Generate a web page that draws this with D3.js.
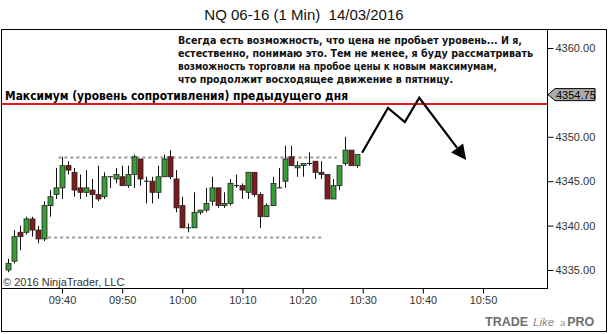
<!DOCTYPE html>
<html><head><meta charset="utf-8">
<script src="https://cdn.jsdelivr.net/npm/d3@7/dist/d3.min.js"></script>
<style>body{margin:0;background:#fff}svg{display:block}</style>
</head><body>
<svg id="c" width="608" height="334"></svg>
<script>
// ---- data ----
const startTime = "09:31";
const opens  = [4335.0,4336.0,4339.25,4339.25,4340.75,4339.5,4338.5,4342.25,4343.5,4344.25,4346.75,4346.0,4344.25,4343.75,4344.0,4343.5,4343.25,4345.5,4345.25,4345.5,4344.5,4345.75,4347.5,4345.0,4345.0,4343.75,4345.5,4347.75,4345.25,4342.25,4339.75,4339.75,4341.5,4341.75,4342.75,4344.25,4342.25,4342.5,4344.5,4344.5,4343.75,4346.0,4343.5,4341.0,4342.25,4344.25,4345.0,4347.75,4346.5,4346.75,4347.0,4347.25,4346.0,4345.75,4343.0,4344.5,4347.0,4348.5,4346.75];
const highs  = [4336.25,4339.5,4340.0,4341.0,4341.0,4340.0,4342.75,4344.0,4346.5,4347.75,4347.25,4346.5,4345.75,4346.25,4345.25,4346.75,4346.0,4345.5,4346.5,4346.75,4346.75,4348.0,4347.5,4345.5,4345.5,4346.75,4348.0,4348.5,4346.25,4343.25,4340.25,4343.75,4341.75,4344.25,4345.5,4344.25,4343.75,4345.25,4345.75,4344.75,4346.0,4346.0,4343.75,4342.5,4345.5,4346.5,4349.0,4349.0,4347.25,4347.0,4348.25,4347.25,4347.25,4345.75,4345.25,4346.75,4350.0,4348.5,4348.0];
const lows   = [4334.75,4335.75,4337.25,4339.0,4338.75,4338.0,4338.25,4341.0,4343.0,4343.0,4345.75,4343.25,4343.0,4343.25,4342.0,4342.75,4343.0,4344.25,4344.75,4344.5,4344.25,4344.25,4344.5,4342.5,4342.5,4343.0,4345.5,4345.25,4341.5,4339.75,4339.25,4339.75,4341.25,4341.5,4342.25,4342.0,4342.0,4342.25,4344.25,4343.0,4343.0,4343.25,4339.75,4341.0,4342.25,4344.25,4344.25,4346.75,4345.5,4345.5,4346.75,4345.25,4345.25,4343.0,4343.0,4344.0,4346.75,4346.75,4346.5];
const closes = [4335.75,4338.75,4338.75,4340.75,4339.5,4338.5,4342.25,4343.25,4344.25,4346.75,4346.25,4344.0,4343.75,4344.25,4343.5,4343.0,4345.5,4345.5,4345.75,4344.5,4345.75,4347.75,4345.25,4345.0,4343.75,4345.5,4347.5,4345.5,4342.0,4339.75,4339.75,4341.5,4341.75,4342.5,4344.25,4342.25,4342.5,4344.75,4344.5,4344.0,4346.0,4343.5,4341.0,4342.25,4344.75,4344.25,4347.5,4346.75,4346.75,4347.0,4347.0,4346.0,4345.75,4343.0,4344.5,4346.75,4348.5,4346.75,4348.0];
const priceTicks = [4335,4340,4345,4350,4360];
const timeTicks = ["09:40","09:50","10:00","10:10","10:20","10:30","10:40","10:50"];
const resistanceLevel = 4353.7;
const resistanceLabel = 4354.75;
const rangeHigh = {price:4347.75, from:"09:39.4", to:"10:25.7"};
const rangeLow  = {price:4338.75, from:"09:36.7", to:"10:23.4"};
const arrowTimes  = ["10:29.9","10:34.2","10:37.0","10:39.4","10:47.2"];
const arrowPrices = [4348.2,4353.25,4351.65,4354.4,4347.4];
const title = "NQ 06-16 (1 Min)  14/03/2016";
const noteLines = [
 "Всегда есть возможность, что цена не пробьет уровень... И я,",
 "естественно, понимаю это. Тем не менее, я буду рассматривать",
 "возможность торговли на пробое цены к новым максимумам,",
 "что продолжит восходящее движение в пятницу."
];
const levelText = "Максимум (уровень сопротивления) предыдущего дня";

// ---- helpers ----
function toDate(s){ const [h,m]=s.split(":"); const mm=parseFloat(m); const d=new Date(2016,2,14,+h,0,0); d.setTime(d.getTime()+mm*60000); return d; }
const t0 = toDate(startTime);
const candles = opens.map((o,i)=>({t:new Date(t0.getTime()+i*60000),o,h:highs[i],l:lows[i],c:closes[i]}));

const svg = d3.select("#c");
const x = d3.scaleTime().domain([toDate("09:40"),toDate("10:50")]).range([62,483]);
const y = d3.scaleLinear().domain([4335,4360]).range([270,48]);
const plot = {l:1.5,t:29.5,r:547.5,b:288.5};

// frames
svg.append("rect").attr("x",1.5).attr("y",29.5).attr("width",605).attr("height",302)
  .attr("fill","none").attr("stroke","#000");
svg.append("rect").attr("x",plot.l).attr("y",plot.t).attr("width",plot.r-plot.l).attr("height",plot.b-plot.t)
  .attr("fill","none").attr("stroke","#000");

// title
svg.append("text").attr("x",304).attr("y",20).attr("text-anchor","middle").style("white-space","pre")
  .attr("font-family","Liberation Sans, Arial").attr("font-size",15).attr("fill","#111").text(title);

// axes
const yAxis = d3.axisRight(y).tickValues(priceTicks).tickFormat(d3.format(".2f")).tickSize(6).tickPadding(2);
const gy = svg.append("g").attr("transform",`translate(${plot.r},0)`).call(yAxis);
gy.select(".domain").remove();
gy.selectAll("text").attr("font-family","Liberation Sans, Arial").attr("font-size",11).attr("fill","#333");
gy.selectAll("line").attr("stroke","#000");

const xAxis = d3.axisBottom(x).tickValues(timeTicks.map(toDate)).tickFormat(d3.timeFormat("%H:%M")).tickSize(5).tickPadding(3);
const gx = svg.append("g").attr("transform",`translate(0,${plot.b})`).call(xAxis);
gx.select(".domain").remove();
gx.selectAll("text").attr("font-family","Liberation Sans, Arial").attr("font-size",11).attr("fill","#333");
gx.selectAll("line").attr("stroke","#000");

// dashed range lines
[rangeHigh,rangeLow].forEach(r=>{
  svg.append("line").attr("x1",x(toDate(r.from))).attr("x2",x(toDate(r.to)))
    .attr("y1",Math.round(y(r.price))+0.5).attr("y2",Math.round(y(r.price))+0.5)
    .attr("stroke","#999").attr("stroke-width",2).attr("stroke-dasharray","3,3");
});

// candles
const g = svg.append("g");
candles.forEach(d=>{
  const cx = Math.round(x(d.t))+0.5;
  g.append("line").attr("x1",cx).attr("x2",cx).attr("y1",y(d.h)).attr("y2",y(d.l)).attr("stroke","#111").attr("stroke-width",1);
  const top = y(Math.max(d.o,d.c)), bot = y(Math.min(d.o,d.c));
  const up = d.c>=d.o;
  if (d.c===d.o){
    g.append("line").attr("x1",cx-2.5).attr("x2",cx+2.5).attr("y1",top).attr("y2",top).attr("stroke","#111");
  } else {
    g.append("rect").attr("x",cx-2.5).attr("y",top).attr("width",5).attr("height",Math.max(1,bot-top))
      .attr("fill",up?"#3a9d3a":"#7d1c1c").attr("stroke","#222").attr("stroke-width",0.8);
  }
});

// copyright
svg.append("text").attr("x",3).attr("y",286).attr("font-family","Liberation Sans, Arial").attr("font-size",11)
  .attr("fill","#333").text("© 2016 NinjaTrader, LLC");

// resistance line
svg.append("line").attr("x1",plot.l).attr("x2",plot.r).attr("y1",y(resistanceLevel)).attr("y2",y(resistanceLevel))
  .attr("stroke","#e8141a").attr("stroke-width",2);
svg.append("text").attr("x",5).attr("y",100).attr("font-family","DejaVu Sans").attr("font-weight","bold")
  .attr("font-size",12).attr("textLength",343).attr("lengthAdjust","spacingAndGlyphs").attr("fill","#000").text(levelText);

// price label
const ly = y(resistanceLabel);
svg.append("path").attr("d",`M548,${ly} L555,${ly-6} L595,${ly-6} L595,${ly+6} L555,${ly+6} Z`)
  .attr("fill","#ababab").attr("stroke","#000").attr("stroke-width",1);
svg.append("text").attr("x",556).attr("y",ly+4.5).attr("font-family","Liberation Sans, Arial").attr("font-size",11)
  .attr("fill","#000").text(resistanceLabel.toFixed(2));

// note
const noteW = [344,355,319,275];
noteLines.forEach((s,i)=>{
  svg.append("text").attr("x",178).attr("y",44+i*13).attr("font-family","DejaVu Sans Condensed, DejaVu Sans")
    .attr("font-stretch","condensed").attr("font-weight","bold")
    .attr("font-size",10.5).attr("textLength",noteW[i]).attr("lengthAdjust","spacingAndGlyphs").attr("fill","#111").text(s);
});

// arrow
const pts = arrowTimes.map((t,i)=>[x(toDate(t)),y(arrowPrices[i])]);
const n = pts.length;
const [px,py] = pts[n-2], [tx,ty] = pts[n-1];
const ang = Math.atan2(ty-py,tx-px);
const L = 15, W = 7.5;
const bx = tx - L*Math.cos(ang), by = ty - L*Math.sin(ang);
const linePts = pts.slice(0,n-1).concat([[bx,by]]);
svg.append("path").attr("d",d3.line()(linePts)).attr("fill","none").attr("stroke","#000").attr("stroke-width",2.2).attr("stroke-linejoin","miter");
svg.append("path").attr("d",`M${tx},${ty} L${bx+W*Math.sin(ang)},${by-W*Math.cos(ang)} L${bx-W*Math.sin(ang)},${by+W*Math.cos(ang)} Z`).attr("fill","#000");

// logo
const logo = svg.append("text").attr("x",485).attr("y",326).attr("font-family","Liberation Sans, Arial").attr("fill","#6e6e6e");
logo.append("tspan").attr("font-weight","bold").attr("font-size",12.5).text("TRADE");
logo.append("tspan").attr("font-style","italic").attr("font-size",11.5).attr("dx",5).attr("fill","#888").text("Like");
logo.append("tspan").attr("font-style","italic").attr("font-size",9).attr("dx",6).attr("fill","#888").text("a");
logo.append("tspan").attr("font-weight","bold").attr("font-size",12.5).attr("dx",2).text("PRO");
</script>
</body></html>
